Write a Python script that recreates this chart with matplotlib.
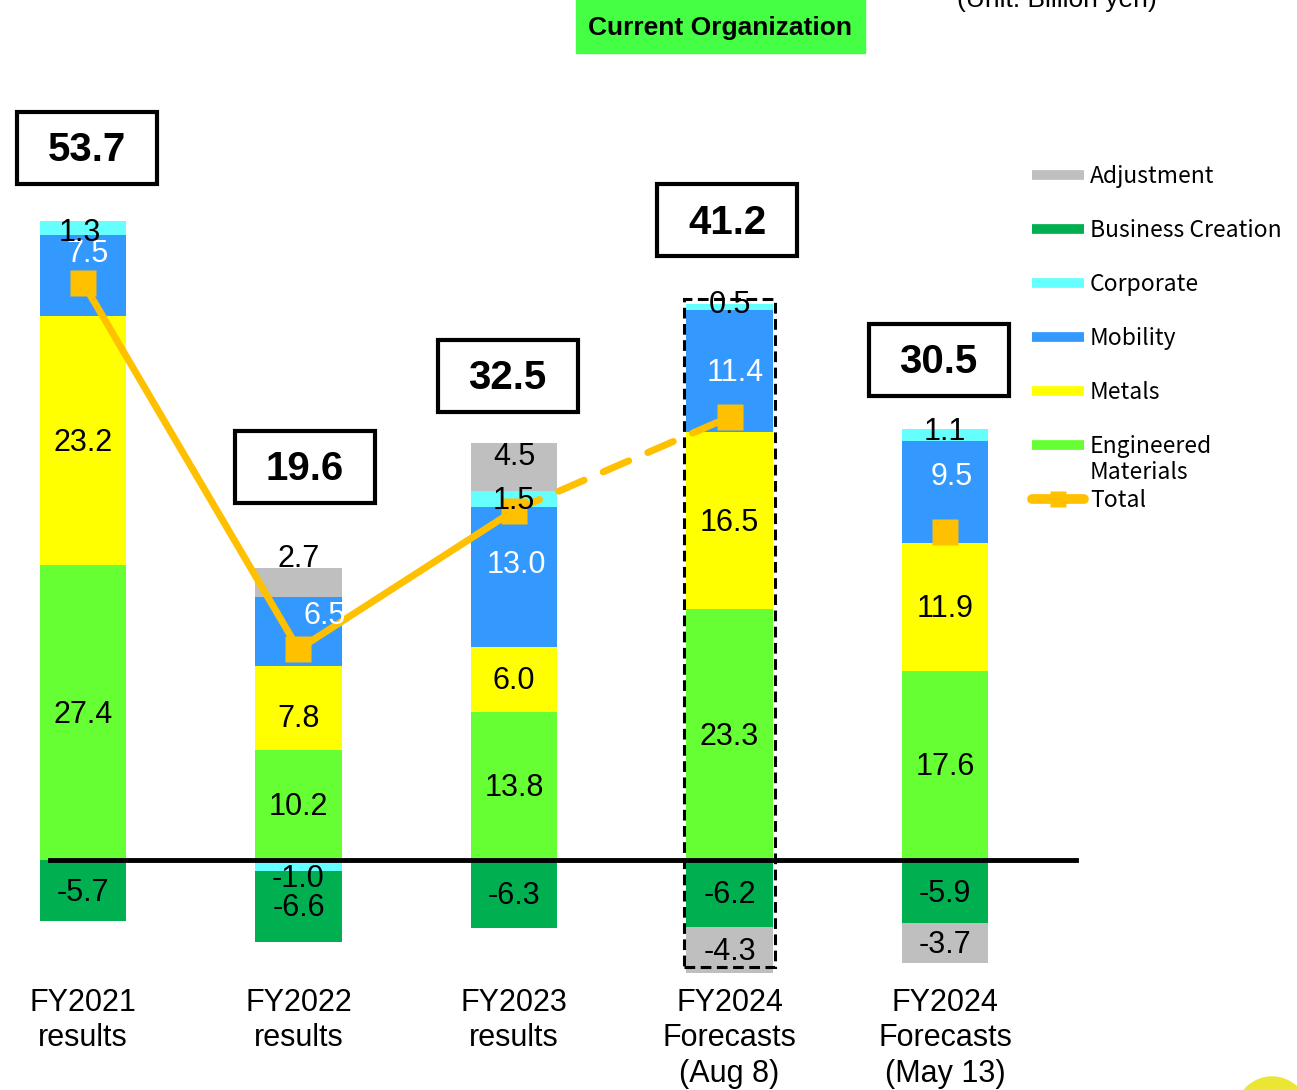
import numpy as np
import matplotlib
matplotlib.use('Agg')
import matplotlib.pyplot as plt
from matplotlib.patches import Rectangle, Circle

plt.rcParams['font.family'] = ['Liberation Sans', 'DejaVu Sans']

# segment profit by business (billion yen)
periods = ['FY2021\nresults', 'FY2022\nresults', 'FY2023\nresults',
           'FY2024\nForecasts\n(Aug 8)', 'FY2024\nForecasts\n(May 13)']
engineered = [27.4, 10.2, 13.8, 23.3, 17.6]
metals = [23.2, 7.8, 6.0, 16.5, 11.9]
mobility = [7.5, 6.5, 13.0, 11.4, 9.5]
corporate = [1.3, -1.0, 1.5, 0.5, 1.1]
business = [-5.7, -6.6, -6.3, -6.2, -5.9]
adjustment = [0.0, 2.7, 4.5, -4.3, -3.7]
totals = [53.7, 19.6, 32.5, 41.2, 30.5]

# stacking order, bottom to top
series = [
    ('Engineered\nMaterials', engineered, '#66FF33', 'black'),
    ('Metals', metals, '#FFFF00', 'black'),
    ('Mobility', mobility, '#3399FF', 'white'),
    ('Corporate', corporate, '#66FFFF', 'black'),
    ('Business Creation', business, '#00B050', 'black'),
    ('Adjustment', adjustment, '#BFBFBF', 'black'),
]
total_color = '#FFC000'

# nudges for the value labels, in pixels (dx, dy up)
label_nudge = {
    ('Mobility', 0): (5, 24), ('Mobility', 1): (26, 18), ('Mobility', 2): (2, 14),
    ('Mobility', 3): (6, 0), ('Mobility', 4): (7, 17),
    ('Adjustment', 1): (0, 25), ('Adjustment', 2): (0, 12),
    ('Corporate', 0): (-3, -3), ('Corporate', 1): (0, -12),
    ('Corporate', 3): (0, 4), ('Corporate', 4): (0, 5),
    ('Metals', 1): (0, -9),
}
# placement of the total boxes (x shift in bar units, y centre in data units)
box_dx = [0.02, 0.03, -0.03, -0.01, -0.03]
box_y = [66.2, 36.6, 45.0, 59.5, 46.5]

W, H = 1297, 1090
fig = plt.figure(figsize=(W / 100, H / 100), dpi=100)
ax = fig.add_axes([0, 0, 1, 1])
ax.axis('off')
ax.set_xlim(-0.385, 5.633)
ax.set_ylim(-21.4, 80.0)

x = np.arange(len(periods))
width = 0.4
pos_base = np.zeros(len(x))
neg_base = np.zeros(len(x))
for name, vals, color, tcolor in series:
    v = np.array(vals)
    bottom = np.where(v >= 0, pos_base, neg_base)
    ax.bar(x, v, width, bottom=bottom, color=color, zorder=2)
    for i in range(len(x)):
        if v[i] == 0:
            continue
        dx, dy = label_nudge.get((name, i), (0, 0))
        ax.annotate(f'{v[i]:.1f}', (x[i], bottom[i] + v[i] / 2),
                    xytext=(dx, dy - 2), textcoords='offset pixels',
                    ha='center', va='center', fontsize=22, color=tcolor, zorder=6)
    pos_base += np.where(v >= 0, v, 0)
    neg_base += np.where(v < 0, v, 0)

# zero line
ax.plot([-0.153, 4.608], [0, 0], color='black', lw=3.5, zorder=4)

# dashed frame around the latest forecast
ax.add_patch(Rectangle((3 - 0.211, neg_base[3] + 0.5), 0.422,
                       pos_base[3] - neg_base[3], fill=False, ec='black',
                       lw=2.2, ls=(0, (3.5, 1.8)), zorder=4))

# total line
ax.plot(x[:3], totals[:3], color=total_color, lw=5, solid_capstyle='round', zorder=3)
ax.plot(x[2:4], totals[2:4], color=total_color, lw=5, dashes=(4, 3),
        dash_capstyle='round', zorder=3)
ax.plot(x, totals, 's', color=total_color, ms=19, mec='none', zorder=3)

# total boxes
for i, t in enumerate(totals):
    bx = x[i] + box_dx[i]
    ax.add_patch(Rectangle((bx - 0.325, box_y[i] - 3.35), 0.65, 6.7,
                           fc='white', ec='black', lw=3, zorder=5))
    ax.text(bx, box_y[i] - 0.2, f'{t:.1f}', ha='center', va='center',
            fontsize=29, fontweight='bold', zorder=6)

for i, p in enumerate(periods):
    ax.text(x[i], -11.95, p, ha='center', va='top', fontsize=22, linespacing=1.22)

# pixel-space overlay for header, legend and decoration
ov = fig.add_axes([0, 0, 1, 1])
ov.set_xlim(0, W)
ov.set_ylim(H, 0)
ov.axis('off')
ov.patch.set_visible(False)

ov.add_patch(Rectangle((576, -5), 289, 58, color='#44FF44'))
ov.text(720, 28, 'Current Organization', ha='center', va='center', fontsize=19,
        fontweight='bold', family=['Liberation Sans Narrow', 'Liberation Sans'])
ov.text(1057, 7, '(Unit: Billion yen)', ha='center', va='baseline', fontsize=19)
ov.add_patch(Circle((1272, 1113), 36, color='#EBE533'))

leg_font = ['Noto Sans CJK JP', 'DejaVu Sans']
legend_rows = [('Adjustment', 175), ('Business Creation', 229), ('Corporate', 283),
               ('Mobility', 337), ('Metals', 391), ('Engineered\nMaterials', 445)]
colors = {name: c for name, _, c, _ in series}
for name, yy in legend_rows:
    ov.plot([1032, 1084], [yy, yy], color=colors[name], lw=7, solid_capstyle='butt')
    ov.text(1090, yy - 10, name, ha='left', va='top', fontsize=16.5,
            family=leg_font, linespacing=1.15)
ov.plot([1032, 1084], [499, 499], color=total_color, lw=7, solid_capstyle='round')
ov.plot([1058], [499], 's', color=total_color, ms=11, mec='none')
ov.text(1090, 499 - 10, 'Total', ha='left', va='top', fontsize=16.5, family=leg_font)

fig.savefig('out.png', dpi=100)
